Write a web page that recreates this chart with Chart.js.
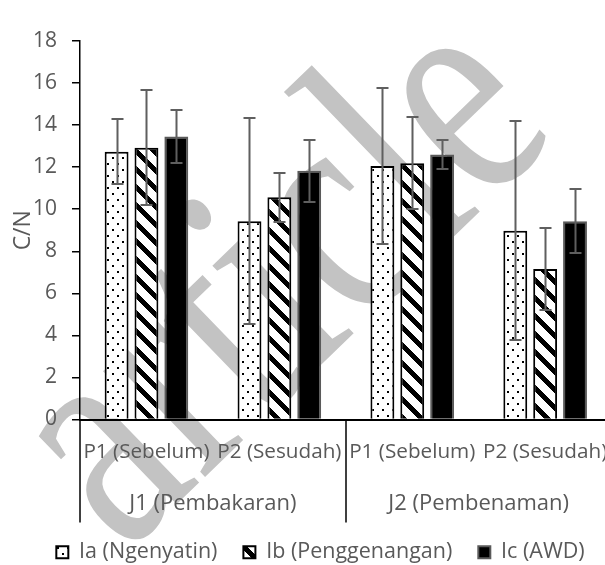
<!DOCTYPE html>
<html>
<head>
<meta charset="utf-8">
<script src="https://cdn.jsdelivr.net/npm/chart.js@4"></script>
<style>
  html, body { margin: 0; padding: 0; background: #fff; overflow: hidden; }
  #wrap { width: 605px; height: 565px; overflow: hidden; position: relative; background: #fff; }
  #wrap canvas { position: absolute; left: 0; top: 0; background: #fff; }
</style>
</head>
<body>
<div id="wrap"><canvas id="c" width="620" height="574"></canvas></div>
<script>
// Perlakuan (lower level) and jerami treatment groups (upper level)
const categories = ['P1 (Sebelum)', 'P2 (Sesudah)', 'P1 (Sebelum)', 'P2 (Sesudah)'];
const groups = ['J1 (Pembakaran)', 'J2 (Pembenaman)'];
const seriesNames = ['Ia (Ngenyatin)', 'Ib (Penggenangan)', 'Ic (AWD)'];

// C/N ratio means and their standard deviations
const valuesIa = [12.73, 9.43, 12.06, 8.98];
const errorsIa = [1.55, 4.89, 3.70, 5.22];
const valuesIb = [12.92, 10.57, 12.19, 7.16];
const errorsIb = [2.74, 1.17, 2.20, 1.95];
const valuesIc = [13.46, 11.83, 12.60, 9.43];
const errorsIc = [1.24, 1.48, 0.69, 1.51];

const yTicks = [0, 2, 4, 6, 8, 10, 12, 14, 16, 18];

const TEXT = '#595959';
const FONT = "'Open Sans', sans-serif";

const canvas = document.getElementById('c');
const ctx = canvas.getContext('2d');

// Dotted fill
function dotPattern() {
  const t = document.createElement('canvas');
  t.width = 10; t.height = 12;
  const g = t.getContext('2d');
  g.fillStyle = '#fff'; g.fillRect(0, 0, 10, 12);
  g.fillStyle = '#000';
  g.fillRect(2, 1, 2, 2);
  g.fillRect(7, 7, 2, 2);
  return ctx.createPattern(t, 'repeat');
}
// Wide downward-diagonal fill
function stripePattern() {
  const n = 18, w = 7;
  const t = document.createElement('canvas');
  t.width = n; t.height = n;
  const g = t.getContext('2d');
  g.fillStyle = '#fff'; g.fillRect(0, 0, n, n);
  g.fillStyle = '#000';
  for (let y = 0; y < n; y++) {
    for (let k = 0; k < w; k++) {
      g.fillRect((y + k) % n, y, 1, 1);
    }
  }
  return ctx.createPattern(t, 'repeat');
}

// Faint stamp behind the plot
const stamp = {
  id: 'stamp',
  beforeDraw(chart) {
    const c = chart.ctx;
    c.save();
    c.translate(291, 291);
    c.rotate(-44 * Math.PI / 180);
    c.scale(0.76, 1);
    c.font = "320px 'Liberation Serif', serif";
    c.fillStyle = '#c3c3c3';
    c.textAlign = 'center';
    c.textBaseline = 'alphabetic';
    c.fillText('article', 0, 74);
    c.restore();
  }
};

// Standard deviation whiskers
const errorBars = {
  id: 'errorBars',
  afterDatasetsDraw(chart) {
    const c = chart.ctx, y = chart.scales.y;
    c.save();
    c.strokeStyle = '#5f5f5f';
    c.lineWidth = 2;
    chart.data.datasets.forEach((ds, di) => {
      const meta = chart.getDatasetMeta(di);
      meta.data.forEach((bar, i) => {
        const v = ds.data[i], e = ds.errors[i];
        const top = Math.round(y.getPixelForValue(v + e));
        const bot = Math.round(y.getPixelForValue(v - e));
        const x = Math.round(bar.x) + 0.5;
        c.beginPath();
        c.moveTo(x, top); c.lineTo(x, bot);
        c.moveTo(x - 6, top); c.lineTo(x + 6, top);
        c.moveTo(x - 6, bot); c.lineTo(x + 6, bot);
        c.stroke();
      });
    });
    c.restore();
  }
};

// Vertical dividers between the category groups
const groupDividers = {
  id: 'groupDividers',
  afterDraw(chart) {
    const x = chart.scales.x, x2 = chart.scales.x2;
    const c = chart.ctx;
    const bottom = x2.bottom + 7;
    const per = categories.length / groups.length;
    const xs = [x.left];
    for (let g = 1; g < groups.length; g++) {
      xs.push((x.getPixelForValue(g * per - 1) + x.getPixelForValue(g * per)) / 2);
    }
    c.save();
    c.strokeStyle = '#000';
    c.lineWidth = 1.5;
    xs.forEach(px => {
      c.beginPath();
      c.moveTo(Math.round(px), x.top);
      c.lineTo(Math.round(px), bottom);
      c.stroke();
    });
    c.restore();
  }
};

const styles = [
  { backgroundColor: dotPattern(), borderColor: '#000' },
  { backgroundColor: stripePattern(), borderColor: '#000' },
  { backgroundColor: '#000', borderColor: '#5a5a5a' }
];
const seriesValues = [valuesIa, valuesIb, valuesIc];
const seriesErrors = [errorsIa, errorsIb, errorsIc];

new Chart(canvas, {
  type: 'bar',
  data: {
    labels: categories,
    datasets: seriesNames.map((name, i) => ({
      label: name,
      data: seriesValues[i],
      errors: seriesErrors[i],
      backgroundColor: styles[i].backgroundColor,
      borderColor: styles[i].borderColor,
      borderWidth: 2,
      categoryPercentage: 0.674,
      barPercentage: 0.8
    }))
  },
  options: {
    responsive: false,
    animation: false,
    devicePixelRatio: 1,
    layout: { padding: { left: 27, right: 6, top: 41, bottom: 1 } },
    plugins: {
      tooltip: { enabled: false },
      legend: {
        position: 'bottom',
        labels: {
          color: TEXT,
          font: { family: FONT, size: 21.5 },
          boxWidth: 12,
          boxHeight: 12,
          padding: 26
        }
      }
    },
    scales: {
      x: {
        type: 'category',
        grid: { display: false },
        border: { display: true, color: '#000', width: 2 },
        ticks: { color: TEXT, font: { family: FONT, size: 20.7 }, padding: 12, maxRotation: 0, autoSkip: false },
        afterFit(s) { s.height = 45; }
      },
      x2: {
        type: 'category',
        labels: groups,
        offset: true,
        position: 'bottom',
        grid: { display: false },
        border: { display: false },
        ticks: { color: TEXT, font: { family: FONT, size: 22 }, padding: 18, maxRotation: 0, autoSkip: false },
        afterFit(s) { s.height = 51; }
      },
      y: {
        min: 0,
        max: 18,
        afterBuildTicks(s) { s.ticks = yTicks.map(v => ({ value: v })); },
        grid: { display: true, drawOnChartArea: false, drawTicks: true, tickLength: 8, color: '#000', lineWidth: 1.5 },
        border: { display: true, color: '#000', width: 1.5 },
        ticks: { color: TEXT, font: { family: FONT, size: 21 }, padding: 15 },
        title: {
          display: true,
          text: 'C/N',
          color: TEXT,
          font: { family: FONT, size: 23 },
          padding: { top: -17, bottom: 0 }
        },
        afterFit(s) { s.width = 53; }
      }
    }
  },
  plugins: [stamp, errorBars, groupDividers]
});
</script>
</body>
</html>
